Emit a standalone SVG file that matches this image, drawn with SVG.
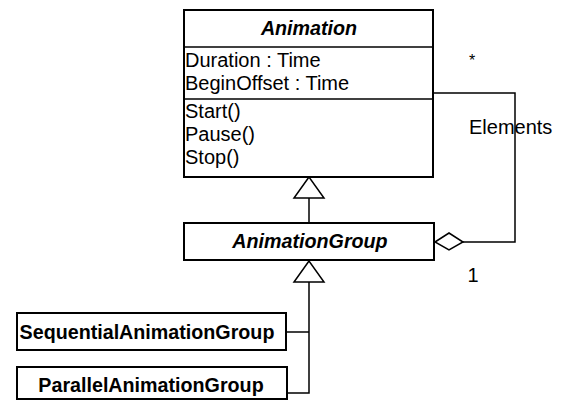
<svg xmlns="http://www.w3.org/2000/svg" width="562" height="400" viewBox="0 0 562 400">
<style>
.box{fill:#fff;stroke:#000;stroke-width:2}
.ln{fill:none;stroke:#000;stroke-width:1.5}
.t{font-family:"Liberation Sans",Arial,sans-serif;font-size:20px;fill:#000}
.b{font-weight:bold;font-size:19.7px}
.i{font-style:italic}
.m{text-anchor:middle}
</style>
<rect width="562" height="400" fill="#fff"/>
<g id="connectors">
<polyline class="ln" points="309,198 309,223"/>
<polygon class="ln" points="309,177 294,198 324,198" fill="#fff"/>
<polyline class="ln" points="309,282 309,393 287,393"/>
<line class="ln" x1="286" y1="332" x2="309" y2="332"/>
<polygon class="ln" points="309,261 294,282 324,282" fill="#fff"/>
<polyline class="ln" points="433,93 515,93 515,242 463,242"/>
<polygon class="ln" points="435,242 449,233 463,242 449,250" fill="#fff"/>
<text class="t" x="472" y="66" text-anchor="middle" style="font-size:16px">*</text>
<text class="t" x="469" y="134">Elements</text>
<text class="t" x="473" y="282" text-anchor="middle">1</text>
</g>
<g id="Animation">
<rect class="box" x="184" y="10" width="249" height="167"/>
<line class="ln" x1="184" y1="47" x2="433" y2="47"/>
<line class="ln" x1="184" y1="99" x2="433" y2="99"/>
<text class="t b i m" x="309" y="35">Animation</text>
<text class="t" x="185" y="67">Duration : Time</text>
<text class="t" x="185" y="90">BeginOffset : Time</text>
<text class="t" x="185" y="118">Start()</text>
<text class="t" x="185" y="141">Pause()</text>
<text class="t" x="185" y="164">Stop()</text>
</g>
<g id="AnimationGroup">
<rect class="box" x="184" y="223" width="250" height="37"/>
<text class="t b i m" x="310" y="248">AnimationGroup</text>
</g>
<g id="SequentialAnimationGroup">
<rect class="box" x="17" y="313" width="269" height="37"/>
<text class="t b m" x="147" y="339">SequentialAnimationGroup</text>
</g>
<g id="ParallelAnimationGroup">
<rect class="box" x="17" y="367" width="270" height="32"/>
<text class="t b m" x="151" y="392">ParallelAnimationGroup</text>
</g>
</svg>
